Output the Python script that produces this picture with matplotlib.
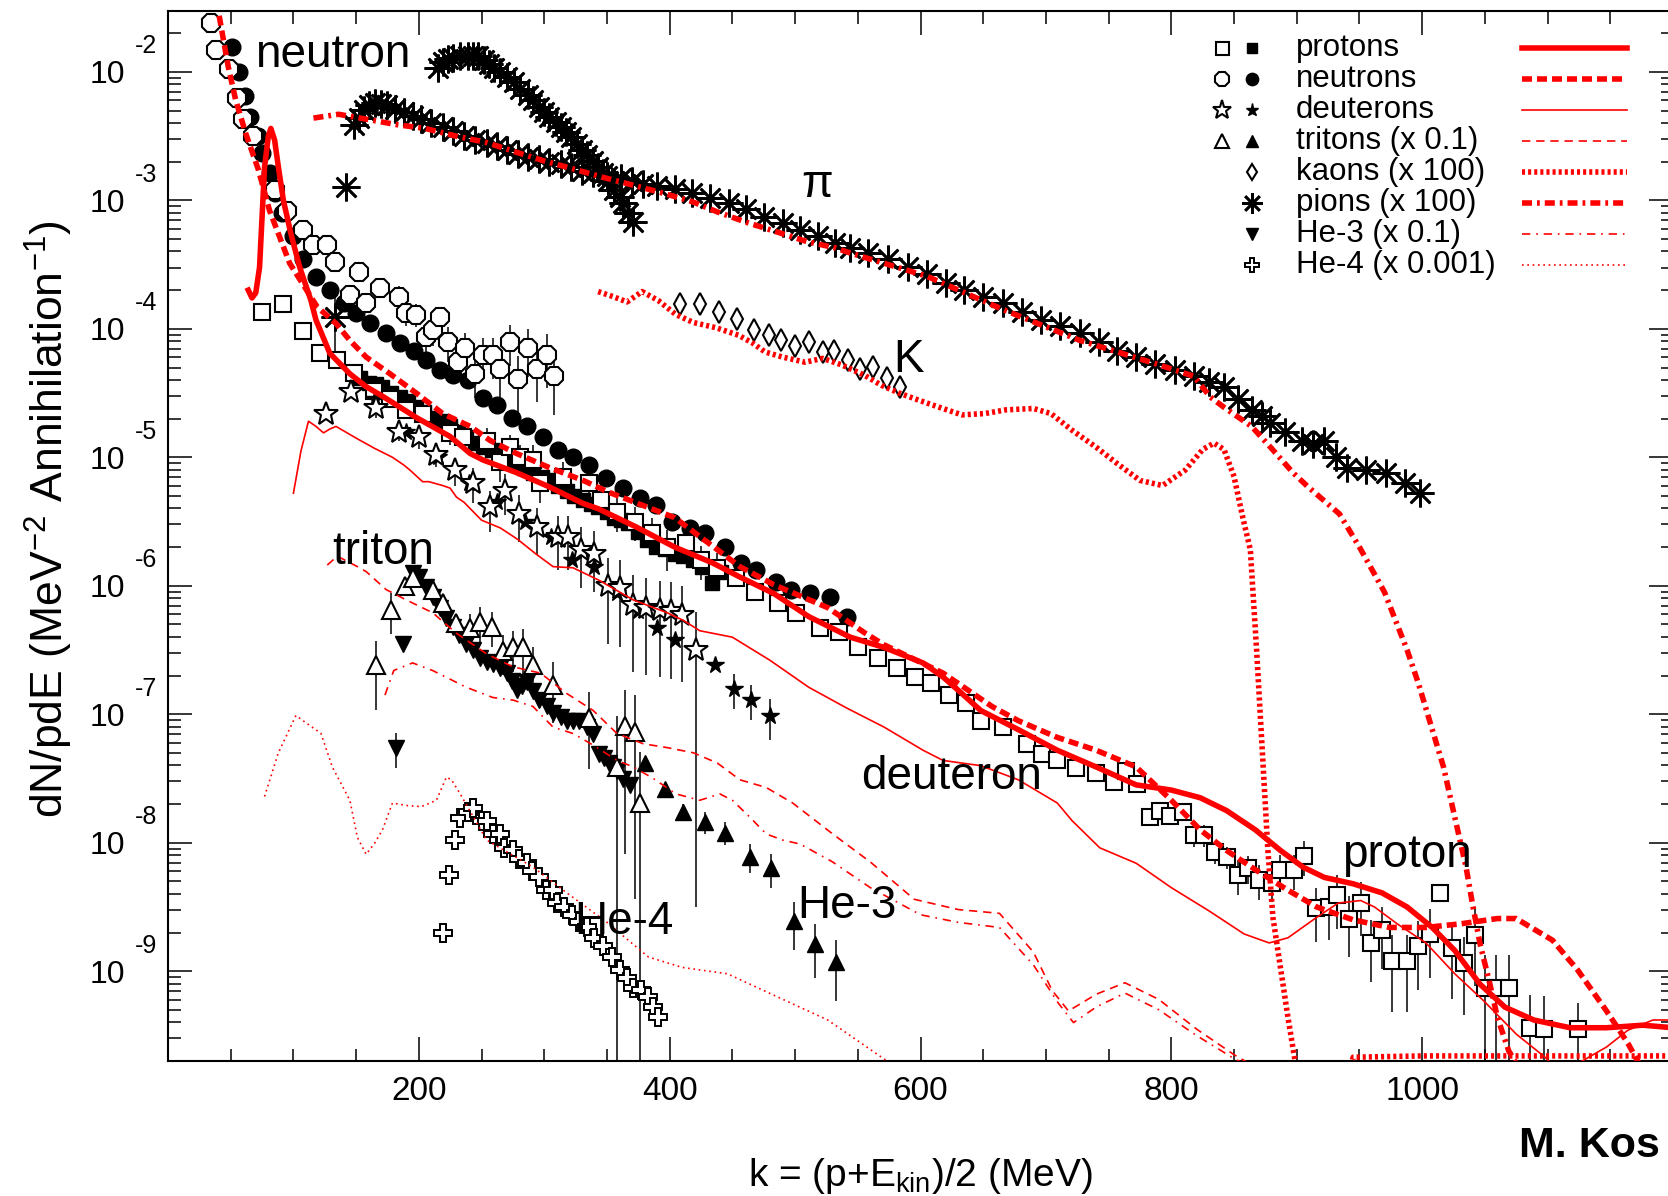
import matplotlib
matplotlib.use('Agg')
import matplotlib.pyplot as plt
import numpy as np
from matplotlib.lines import Line2D
from matplotlib.ticker import FixedLocator, MultipleLocator, LogLocator, FuncFormatter, NullFormatter

plt.rcParams['font.family'] = ['Liberation Sans', 'DejaVu Sans']
plt.rcParams['mathtext.fontset'] = 'custom'
plt.rcParams['mathtext.rm'] = 'Liberation Sans'
plt.rcParams['mathtext.it'] = 'Liberation Sans:italic'
plt.rcParams['mathtext.bf'] = 'Liberation Sans:bold'

# ---------------- data (k in MeV, dN/pdE) ----------------
# protons
p_open_x = [75, 92, 108, 121, 135, 148, 164, 177, 190, 203, 225, 235, 254, 265, 273, 281, 291, 297, 315, 336,
            345, 358, 372, 386, 398, 413, 425, 438, 453, 468, 486, 501, 520, 535, 550, 566, 581, 596, 608, 623,
            636, 648, 666, 685, 697, 709, 724, 740, 754, 764, 773, 783, 791, 799, 809, 818, 826, 835, 844, 853,
            861, 870, 880, 887, 898, 906, 915, 926, 932, 942, 951, 959, 968, 976, 988, 997, 1006, 1014, 1024, 1033,
            1042, 1050, 1059, 1069, 1086, 1097, 1124]
p_open_y = [1.35e-4, 1.55e-4, 9.55e-5, 6.46e-5, 5.75e-5, 4.57e-5, 3.31e-5, 2.82e-5, 2.34e-5, 2.19e-5, 1.55e-5, 1.45e-5,
            1.35e-5, 9.12e-6, 1.20e-5, 1.00e-5, 9.55e-6, 6.31e-6, 7.08e-6, 6.31e-6, 4.68e-6, 3.72e-6, 3.16e-6, 2.57e-6,
            2.00e-6, 2.14e-6, 1.58e-6, 1.38e-6, 1.15e-6, 8.91e-7, 7.41e-7, 6.17e-7, 4.68e-7, 4.37e-7, 3.31e-7, 2.75e-7,
            2.29e-7, 1.95e-7, 1.74e-7, 1.41e-7, 1.23e-7, 8.91e-8, 7.94e-8, 5.89e-8, 4.90e-8, 4.37e-8, 3.80e-8, 3.47e-8,
            2.95e-8, 3.63e-8, 2.88e-8, 1.58e-8, 1.78e-8, 1.62e-8, 1.74e-8, 1.15e-8, 1.15e-8, 8.51e-9, 7.76e-9, 5.62e-9,
            6.31e-9, 5.13e-9, 4.90e-9, 6.17e-9, 6.17e-9, 7.94e-9, 3.09e-9, 3.16e-9, 3.89e-9, 2.57e-9, 3.39e-9, 1.66e-9,
            2.09e-9, 1.20e-9, 1.20e-9, 1.58e-9, 1.95e-9, 4.07e-9, 1.51e-9, 1.15e-9, 1.91e-9, 7.41e-10, 7.41e-10, 7.41e-10,
            3.63e-10, 3.55e-10, 3.55e-10]
p_open_rel = [0.05, 0.05, 0.05, 0.05, 0.05, 0.1, 0.1, 0.1, 0.15, 0.15, 0.2, 0.2, 0.25, 0.3, 0.25, 0.25, 0.3, 0.3, 0.3, 0.3,
              0.3, 0.3, 0.3, 0.3, 0.35, 0.3, 0.3, 0.3, 0.1, 0.05, 0.05, 0.05, 0.05, 0.05, 0.05, 0.05, 0.05, 0.05, 0.05, 0.05,
              0.05, 0.05, 0.05, 0.05, 0.05, 0.05, 0.1, 0.1, 0.1, 0.1, 0.1, 0.15, 0.15, 0.15, 0.15, 0.2, 0.2, 0.2, 0.2, 0.3,
              0.25, 0.3, 0.3, 0.3, 0.3, 0.3, 0.45, 0.45, 0.45, 0.5, 0.45, 0.5, 0.5, 0.6, 0.6, 0.55, 0.55, 0.0, 0.6, 0.6,
              0.6, 0.8, 0.8, 0.8, 0.8, 0.8, 0.6]
p_fill_x = [153, 160, 166, 171, 178, 185, 191, 198, 204, 211, 218, 225, 231, 238, 245, 251, 258, 265, 271, 278, 284, 291,
            298, 304, 311, 318, 324, 331, 337, 343, 350, 356, 361, 367, 375, 382, 389, 396, 404, 411, 419, 426, 434, 441]
p_fill_y = [4.17e-5, 3.80e-5, 3.72e-5, 3.55e-5, 3.16e-5, 2.95e-5, 2.75e-5, 2.45e-5, 2.24e-5, 2.04e-5, 1.91e-5, 1.74e-5,
            1.58e-5, 1.45e-5, 1.29e-5, 1.20e-5, 1.15e-5, 1.07e-5, 9.55e-6, 8.91e-6, 8.32e-6, 7.59e-6, 7.08e-6, 6.61e-6,
            6.03e-6, 5.50e-6, 5.01e-6, 4.68e-6, 4.37e-6, 4.07e-6, 3.72e-6, 3.39e-6, 3.24e-6, 3.09e-6, 2.63e-6, 2.29e-6,
            2.00e-6, 1.95e-6, 1.78e-6, 1.70e-6, 1.58e-6, 1.41e-6, 1.05e-6, 1.29e-6]
p_th_x = [64, 67, 70, 73, 75, 77, 80, 82, 85, 88, 92, 98, 105, 114, 118, 129, 145, 158, 172, 198, 225, 241, 251, 278, 304,
          331, 343, 373, 404, 434, 456, 483, 511, 544, 571, 602, 618, 633, 648, 678, 709, 740, 772, 800, 823, 844, 867,
          887, 905, 922, 945, 968, 988, 1008, 1026, 1046, 1066, 1089, 1118, 1147, 1176, 1200]
p_th_y = [2.00e-4, 1.74e-4, 1.91e-4, 3.02e-4, 7.41e-4, 1.82e-3, 3.16e-3, 3.63e-3, 2.95e-3, 1.82e-3, 1.00e-3, 5.50e-4,
          3.02e-4, 1.66e-4, 1.17e-4, 6.46e-5, 4.47e-5, 3.55e-5, 2.95e-5, 2.04e-5, 1.45e-5, 1.07e-5, 9.55e-6, 7.59e-6,
          5.89e-6, 4.37e-6, 3.98e-6, 2.88e-6, 2.00e-6, 1.51e-6, 1.17e-6, 8.71e-7, 5.75e-7, 3.98e-7, 3.31e-7, 2.51e-7,
          1.95e-7, 1.45e-7, 1.07e-7, 7.59e-8, 5.25e-8, 3.89e-8, 2.82e-8, 2.57e-8, 2.24e-8, 1.78e-8, 1.26e-8, 8.71e-9,
          6.46e-9, 5.37e-9, 4.79e-9, 4.07e-9, 3.16e-9, 2.19e-9, 1.45e-9, 7.94e-10, 5.25e-10, 4.17e-10, 3.63e-10,
          3.63e-10, 3.80e-10, 3.63e-10]

# neutrons
n_open_x = [34, 38, 49, 55, 60, 68, 85, 95, 108, 116, 127, 133, 145, 152, 158, 169, 184, 190, 198, 206, 211, 217, 223,
            231, 237, 245, 251, 259, 265, 273, 279, 287, 294, 302, 308]
n_open_y = [2.40e-2, 1.48e-2, 1.05e-2, 6.31e-3, 4.27e-3, 3.16e-3, 1.20e-3, 8.32e-4, 5.89e-4, 4.47e-4, 4.47e-4, 3.31e-4,
            1.82e-4, 2.75e-4, 1.58e-4, 2.09e-4, 1.78e-4, 1.32e-4, 1.29e-4, 8.71e-5, 9.77e-5, 1.23e-4, 7.94e-5, 5.50e-5,
            7.08e-5, 4.47e-5, 6.31e-5, 6.31e-5, 4.90e-5, 7.94e-5, 4.07e-5, 7.08e-5, 4.90e-5, 6.31e-5, 4.27e-5]
n_open_rel = [0, 0, 0, 0, 0, 0, 0.05, 0.05, 0.08, 0.08, 0.1, 0.1, 0.15, 0.15, 0.15, 0.15, 0.2, 0.2, 0.2, 0.25, 0.25, 0.2,
              0.3, 0.3, 0.3, 0.35, 0.35, 0.35, 0.4, 0.35, 0.5, 0.4, 0.45, 0.45, 0.5]
n_fill_x = [51, 57, 61, 65, 72, 75, 81, 85, 91, 100, 108, 118, 129, 140, 150, 161, 174, 185, 196, 206, 217, 227, 239,
            251, 262, 274, 286, 299, 311, 323, 336, 349, 363, 376, 389, 402, 416, 428, 444, 457, 469, 485, 497, 512, 528,
            541]
n_fill_y = [1.55e-2, 1.00e-2, 6.46e-3, 4.47e-3, 3.16e-3, 2.34e-3, 1.62e-3, 1.15e-3, 7.94e-4, 5.25e-4, 3.47e-4, 2.51e-4,
            2.00e-4, 1.58e-4, 1.32e-4, 1.12e-4, 9.33e-5, 7.76e-5, 6.76e-5, 5.75e-5, 4.79e-5, 4.37e-5, 3.98e-5, 2.88e-5,
            2.57e-5, 2.04e-5, 1.74e-5, 1.45e-5, 1.15e-5, 1.00e-5, 8.71e-6, 6.92e-6, 5.75e-6, 4.79e-6, 4.27e-6, 3.16e-6,
            2.82e-6, 2.57e-6, 2.00e-6, 1.51e-6, 1.32e-6, 1.07e-6, 9.33e-7, 8.71e-7, 8.13e-7, 5.75e-7]
n_th_x = [38, 40, 48, 54, 62, 72, 81, 97, 119, 134, 145, 158, 177, 198, 219, 241, 257, 278, 304, 331, 351, 404, 456, 483,
          526, 556, 571, 618, 657, 678, 709, 740, 772, 800, 823, 844, 867, 893, 916, 945, 974, 1003, 1031, 1060, 1075,
          1104, 1124, 1147, 1164, 1173, 1180]
n_th_y = [3.55e-2, 3.02e-2, 1.10e-2, 6.03e-3, 3.31e-3, 1.74e-3, 8.32e-4, 3.24e-4, 1.48e-4, 1.10e-4, 8.13e-5, 6.03e-5,
          4.47e-5, 3.16e-5, 2.19e-5, 1.74e-5, 1.35e-5, 1.07e-5, 8.32e-6, 6.61e-6, 5.37e-6, 3.39e-6, 1.41e-6, 1.02e-6,
          6.76e-7, 4.27e-7, 3.47e-7, 2.09e-7, 1.15e-7, 8.91e-8, 6.61e-8, 5.25e-8, 3.89e-8, 2.14e-8, 1.26e-8, 8.71e-9,
          6.17e-9, 4.27e-9, 3.16e-9, 2.51e-9, 2.19e-9, 2.19e-9, 2.34e-9, 2.57e-9, 2.57e-9, 1.74e-9, 1.02e-9, 4.90e-10,
          2.75e-10, 1.91e-10, 1.41e-10]

# deuterons
d_open_x = [126, 146, 166, 184, 200, 214, 229, 243, 257, 269, 280, 294, 311, 319, 329, 340, 351, 360, 371, 381, 392, 401,
            410, 421]
d_open_y = [2.19e-5, 3.24e-5, 2.40e-5, 1.58e-5, 1.45e-5, 1.05e-5, 7.94e-6, 6.31e-6, 4.07e-6, 5.50e-6, 3.63e-6, 2.88e-6,
            2.40e-6, 2.40e-6, 1.91e-6, 1.78e-6, 1.00e-6, 9.55e-7, 7.08e-7, 6.76e-7, 6.46e-7, 6.31e-7, 5.89e-7, 3.16e-7]
d_open_rel = [0.1, 0.1, 0.15, 0.15, 0.2, 0.2, 0.25, 0.3, 0.35, 0.35, 0.4, 0.4, 0.45, 0.45, 0.5, 0.5, 0.65, 0.65, 0.7,
              0.7, 0.7, 0.7, 0.7, 0.99]
d_fill_x = [165, 190, 215, 240, 262, 285, 305, 322, 340, 358, 375, 390, 404, 436, 451, 465, 480]
d_fill_y = [2.82e-5, 1.58e-5, 1.00e-5, 6.31e-6, 4.47e-6, 3.16e-6, 2.40e-6, 1.58e-6, 1.41e-6, 8.71e-7, 6.31e-7, 4.68e-7,
            3.80e-7, 2.40e-7, 1.58e-7, 1.29e-7, 9.77e-8]
d_fill_rel = [0, 0, 0, 0, 0, 0, 0, 0, 0, 0, 0, 0, 0, 0, 0.3, 0.3, 0.35]
d_th_x = [100, 106, 112, 118, 124, 129, 134, 150, 165, 179, 188, 193, 203, 208, 219, 225, 230, 236, 250, 265, 279, 293,
          307, 323, 344, 371, 398, 411, 424, 450, 480, 511, 541, 571, 602, 618, 648, 678, 709, 721, 743, 772, 800, 830,
          858, 878, 893, 916, 933, 951, 962, 980, 1003, 1026, 1049, 1075, 1098, 1106, 1115, 1124, 1147, 1164, 1184, 1200]
d_th_y = [5.25e-6, 1.12e-5, 1.91e-5, 1.74e-5, 1.55e-5, 1.66e-5, 1.74e-5, 1.41e-5, 1.17e-5, 1.00e-5, 8.71e-6, 7.94e-6,
          6.46e-6, 6.46e-6, 6.03e-6, 5.75e-6, 4.90e-6, 4.47e-6, 3.24e-6, 2.82e-6, 2.29e-6, 1.78e-6, 1.41e-6, 1.38e-6,
          1.10e-6, 7.76e-7, 6.17e-7, 5.37e-7, 4.47e-7, 3.98e-7, 2.63e-7, 1.62e-7, 1.12e-7, 7.94e-8, 5.25e-8, 4.37e-8,
          3.98e-8, 3.09e-8, 2.04e-8, 1.48e-8, 9.12e-9, 6.92e-9, 4.47e-9, 2.95e-9, 1.95e-9, 1.66e-9, 1.82e-9, 2.63e-9,
          3.39e-9, 3.55e-9, 3.16e-9, 2.34e-9, 1.66e-9, 9.55e-10, 5.89e-10, 3.24e-10, 2.14e-10, 1.78e-10, 1.58e-10,
          1.91e-10, 2.57e-10, 3.47e-10, 4.17e-10, 4.17e-10]

# tritons (x 0.1)
t_open_x = [166, 178, 189, 195, 211, 219, 230, 241, 249, 258, 267, 275, 283, 291, 307, 336, 358, 364, 372, 376]
t_open_y = [2.40e-7, 6.46e-7, 1.00e-6, 1.15e-6, 9.33e-7, 7.41e-7, 5.13e-7, 4.68e-7, 5.25e-7, 4.79e-7, 3.09e-7, 3.31e-7,
            3.31e-7, 2.40e-7, 1.70e-7, 9.33e-8, 3.89e-8, 8.13e-8, 7.24e-8, 2.04e-8]
t_open_rel = [0.55, 0.35, 0.1, 0.1, 0.1, 0.15, 0.15, 0.3, 0.3, 0.3, 0.35, 0.35, 0.4, 0.4, 0.5, 0.6, 1.5, 0.9, 0.95, 1.5]
t_fill_x = [380, 396, 411, 428, 444, 464, 481, 499, 516, 533]
t_fill_y = [4.17e-8, 2.63e-8, 1.74e-8, 1.45e-8, 1.20e-8, 7.76e-9, 6.31e-9, 2.45e-9, 1.62e-9, 1.17e-9]
t_fill_rel = [0.1, 0.1, 0.15, 0.2, 0.2, 0.25, 0.3, 0.4, 0.45, 0.5]
t_th_x = [127, 135, 151, 158, 174, 190, 211, 230, 254, 275, 297, 318, 339, 358, 379, 398, 419, 438, 456, 477, 498, 530,
          560, 595, 630, 663, 690, 705, 718, 740, 763, 790, 820, 850, 873]
t_th_y = [1.45e-6, 1.70e-6, 1.41e-6, 1.29e-6, 9.33e-7, 7.76e-7, 6.17e-7, 4.27e-7, 2.95e-7, 2.34e-7, 2.09e-7, 1.45e-7,
          1.07e-7, 7.08e-8, 5.89e-8, 5.50e-8, 5.01e-8, 4.17e-8, 3.09e-8, 2.69e-8, 2.04e-8, 1.17e-8, 7.08e-9, 3.63e-9,
          3.02e-9, 2.82e-9, 1.41e-9, 7.08e-10, 4.90e-10, 6.61e-10, 8.13e-10, 6.03e-10, 3.55e-10, 2.24e-10, 1.66e-10]

# kaons (x 100)
k_x = [408, 424, 439, 454, 467, 479, 489, 500, 511, 522, 531, 542, 552, 562, 573, 584]
k_y = [1.55e-4, 1.55e-4, 1.35e-4, 1.20e-4, 9.77e-5, 8.91e-5, 8.13e-5, 7.41e-5, 7.94e-5, 6.61e-5, 6.76e-5, 5.75e-5,
       4.90e-5, 5.01e-5, 4.17e-5, 3.55e-5]
k_th_x = [343, 355, 366, 378, 391, 405, 419, 437, 455, 466, 476, 490, 508, 522, 537, 555, 569, 583, 597, 615, 633, 651,
          668, 690, 704, 721, 740, 757, 775, 793, 811, 825, 834, 842, 850, 857, 863, 868, 871, 874, 877, 881, 887, 893,
          899, 920, 945, 1000, 1050, 1100, 1150, 1200]
k_th_y = [1.95e-4, 1.78e-4, 1.62e-4, 1.95e-4, 1.66e-4, 1.29e-4, 1.12e-4, 1.02e-4, 8.91e-5, 7.76e-5, 6.61e-5, 6.03e-5,
          5.50e-5, 5.89e-5, 5.25e-5, 4.37e-5, 3.63e-5, 3.16e-5, 2.82e-5, 2.45e-5, 2.14e-5, 2.19e-5, 2.34e-5, 2.40e-5,
          2.19e-5, 1.62e-5, 1.20e-5, 8.91e-6, 6.61e-6, 6.03e-6, 7.94e-6, 1.15e-5, 1.29e-5, 1.15e-5, 7.08e-6, 3.39e-6,
          1.91e-6, 3.16e-7, 9.55e-8, 2.88e-8, 8.71e-9, 2.63e-9, 1.07e-9, 4.37e-10, 1.91e-10, 3.16e-11, 2.14e-10,
          2.19e-10, 2.19e-10, 2.19e-10, 2.19e-10, 2.19e-10]

# pions (x 100)
pi_x = [148, 152, 156, 160, 165, 170, 175, 181, 188, 195, 202, 210, 219, 227, 236, 245, 254, 262, 270, 279, 287, 296,
        304, 313, 321, 330, 339, 350, 361, 370, 379, 390, 404, 418, 432, 447, 461, 475, 490, 504, 518, 532, 544, 558,
        574, 590, 605, 620, 635, 650, 666, 681, 696, 711, 727, 742, 757, 772, 787, 803, 818, 830, 842, 853, 864, 872,
        879, 891, 904, 913, 922, 931, 940, 955, 971, 986, 998]
pi_y = [3.89e-3, 4.37e-3, 5.01e-3, 5.50e-3, 5.75e-3, 5.62e-3, 5.50e-3, 5.13e-3, 4.90e-3, 4.57e-3, 4.27e-3, 3.98e-3,
        3.72e-3, 3.47e-3, 3.16e-3, 2.95e-3, 2.82e-3, 2.63e-3, 2.45e-3, 2.29e-3, 2.19e-3, 2.09e-3, 2.00e-3, 1.91e-3,
        1.82e-3, 1.70e-3, 1.62e-3, 1.55e-3, 1.48e-3, 1.41e-3, 1.35e-3, 1.29e-3, 1.23e-3, 1.15e-3, 1.05e-3, 9.55e-4,
        8.51e-4, 7.41e-4, 6.61e-4, 5.89e-4, 5.25e-4, 4.68e-4, 4.27e-4, 3.89e-4, 3.47e-4, 3.02e-4, 2.69e-4, 2.29e-4,
        2.00e-4, 1.78e-4, 1.58e-4, 1.35e-4, 1.17e-4, 1.05e-4, 9.33e-5, 7.94e-5, 6.76e-5, 6.03e-5, 5.37e-5, 4.79e-5,
        4.27e-5, 3.89e-5, 3.55e-5, 2.82e-5, 2.34e-5, 2.09e-5, 1.86e-5, 1.58e-5, 1.35e-5, 1.26e-5, 1.35e-5, 1.00e-5,
        8.32e-6, 7.94e-6, 7.59e-6, 6.31e-6, 5.25e-6]
pi2_x = [215, 219, 223, 227, 233, 239, 243, 247, 252, 256, 260, 265, 270, 276, 281, 287, 291, 296, 300, 304, 309, 313,
         317, 321, 326, 330, 334, 339, 343, 347, 351, 356, 360, 363, 367, 371]
pi2_y = [1.07e-2, 1.20e-2, 1.26e-2, 1.29e-2, 1.32e-2, 1.32e-2, 1.32e-2, 1.32e-2, 1.23e-2, 1.15e-2, 1.07e-2, 1.00e-2,
         9.12e-3, 8.32e-3, 7.41e-3, 6.61e-3, 6.03e-3, 5.37e-3, 4.90e-3, 4.47e-3, 4.07e-3, 3.72e-3, 3.39e-3, 3.09e-3,
         2.75e-3, 2.45e-3, 2.24e-3, 2.04e-3, 1.82e-3, 1.62e-3, 1.41e-3, 1.20e-3, 1.07e-3, 9.55e-4, 7.94e-4, 6.76e-4]
pi3_x = [133, 142]
pi3_y = [1.23e-4, 1.26e-3]
pi3_rel = [0.6, 0.0]
pi_th_x = [116, 136, 159, 182, 205, 230, 254, 276, 299, 321, 347, 370, 393, 418, 438, 461, 487, 509, 532, 544, 605, 666,
           727, 787, 818, 831, 842, 864, 879, 897, 909, 934, 950, 970, 988, 997, 1009, 1017, 1026, 1035, 1040, 1046,
           1054, 1060, 1069, 1075, 1080]
pi_th_y = [4.37e-3, 4.68e-3, 4.27e-3, 3.89e-3, 3.63e-3, 3.16e-3, 2.82e-3, 2.40e-3, 2.04e-3, 1.78e-3, 1.51e-3, 1.32e-3,
           1.15e-3, 9.77e-4, 8.13e-4, 6.76e-4, 5.62e-4, 4.79e-4, 4.27e-4, 3.89e-4, 2.57e-4, 1.41e-4, 8.13e-5, 5.37e-5,
           4.27e-5, 2.95e-5, 2.45e-5, 1.74e-5, 1.20e-5, 7.59e-6, 5.89e-6, 3.63e-6, 2.00e-6, 8.91e-7, 3.16e-7, 1.74e-7,
           7.08e-8, 3.89e-8, 1.58e-8, 6.46e-9, 3.39e-9, 1.66e-9, 7.94e-10, 4.37e-10, 2.40e-10, 1.91e-10, 1.41e-10]

# He-3 (x 0.1)
he3_x = [182, 187, 195, 200, 206, 211, 217, 222, 227, 232, 238, 243, 249, 254, 259, 265, 270, 274, 278, 282, 286, 291,
         296, 302, 307, 313, 318, 323, 328, 334, 339, 344, 348, 352, 355, 358, 363, 368]
he3_y = [5.50e-8, 3.55e-7, 1.26e-6, 1.17e-6, 9.77e-7, 8.13e-7, 6.76e-7, 5.62e-7, 4.79e-7, 4.17e-7, 3.55e-7, 3.16e-7,
         2.75e-7, 2.57e-7, 2.45e-7, 2.29e-7, 2.09e-7, 1.82e-7, 1.55e-7, 1.66e-7, 1.78e-7, 1.51e-7, 1.29e-7, 1.15e-7,
         1.02e-7, 9.55e-8, 8.91e-8, 8.91e-8, 8.91e-8, 7.94e-8, 7.08e-8, 4.90e-8, 4.57e-8, 4.17e-8, 3.89e-8, 3.63e-8,
         3.16e-8, 2.82e-8]
he3_rel = [0.3] + [0.0] * 37
he3_th_x = [173, 180, 195, 211, 238, 259, 275, 291, 307, 323, 339, 358, 371, 387, 405, 424, 440, 450, 464, 477, 490, 504,
            530, 560, 600, 630, 663, 690, 710, 722, 740, 763, 790, 820, 850, 870]
he3_th_y = [1.41e-7, 2.19e-7, 2.51e-7, 2.19e-7, 1.62e-7, 1.35e-7, 1.29e-7, 1.15e-7, 7.94e-8, 7.08e-8, 5.75e-8, 4.37e-8,
            3.89e-8, 3.16e-8, 2.40e-8, 2.14e-8, 2.40e-8, 2.14e-8, 1.58e-8, 1.17e-8, 1.05e-8, 9.77e-9, 7.08e-9, 4.47e-9,
            2.75e-9, 2.40e-9, 2.19e-9, 1.12e-9, 5.62e-10, 3.98e-10, 5.25e-10, 6.76e-10, 5.01e-10, 3.16e-10, 2.09e-10,
            1.66e-10]

# He-4 (x 0.001)
he4_x = [219, 224, 229, 233, 239, 243, 250, 254, 259, 265, 268, 275, 280, 286, 290, 296, 301, 307, 310, 316, 322, 328,
         334, 340, 347, 354, 360, 366, 371, 377, 383, 387, 391]
he4_y = [2.00e-9, 5.62e-9, 1.05e-8, 1.55e-8, 1.74e-8, 1.86e-8, 1.48e-8, 1.48e-8, 1.17e-8, 1.17e-8, 9.12e-9, 8.71e-9,
         7.41e-9, 6.92e-9, 6.03e-9, 5.37e-9, 4.27e-9, 4.27e-9, 3.39e-9, 3.16e-9, 2.75e-9, 2.40e-9, 2.19e-9, 1.82e-9,
         1.58e-9, 1.29e-9, 1.02e-9, 8.91e-10, 7.41e-10, 7.08e-10, 6.31e-10, 5.25e-10, 4.37e-10]
he4_th_x = [77, 88, 102, 122, 131, 145, 151, 158, 165, 171, 179, 190, 202, 214, 222, 226, 233, 254, 291, 318, 350, 383,
            410, 446, 486, 526, 572, 585]
he4_th_y = [2.29e-8, 5.01e-8, 9.77e-8, 7.08e-8, 3.89e-8, 2.14e-8, 1.10e-8, 8.13e-9, 1.00e-8, 1.26e-8, 2.04e-8, 1.95e-8,
            1.91e-8, 2.14e-8, 3.24e-8, 3.09e-8, 2.40e-8, 1.05e-8, 6.46e-9, 4.07e-9, 2.40e-9, 1.29e-9, 1.07e-9, 9.55e-10,
            6.31e-10, 4.17e-10, 2.04e-10, 1.58e-10]

legend_labels = ['protons', 'neutrons', 'deuterons', 'tritons (x 0.1)', 'kaons (x 100)', 'pions (x 100)',
                 'He-3 (x 0.1)', 'He-4 (x 0.001)']
y_decades = [1e-9, 1e-8, 1e-7, 1e-6, 1e-5, 1e-4, 1e-3, 1e-2]

# ---------------- figure ----------------
W, H = 1668, 1196
fig = plt.figure(figsize=(W / 100, H / 100), dpi=100)
ax = fig.add_axes([168 / W, 1 - 1061 / H, (1673 - 168) / W, (1061 - 10.6) / H])
ax.set_yscale('log')

RED = '#ff0000'
THICK, THIN = 4.0, 1.2

ASTER = (8, 2, 0)
styles = {
    'p_open': dict(marker='s', ms=12, mfc='white', mec='black', mew=1.5),
    'p_fill': dict(marker='s', ms=10, mfc='black', mec='black'),
    'n_open': dict(marker='8', ms=14, mfc='white', mec='black', mew=1.5),
    'n_fill': dict(marker='o', ms=12, mfc='black', mec='black'),
    'd_open': dict(marker='*', ms=18, mfc='white', mec='black', mew=1.5),
    'd_fill': dict(marker='*', ms=13, mfc='black', mec='black'),
    't_open': dict(marker='^', ms=13, mfc='white', mec='black', mew=1.5),
    't_fill': dict(marker='^', ms=12, mfc='black', mec='black'),
    'k': dict(marker='d', ms=11, mfc='white', mec='black', mew=1.5),
    'pi': dict(marker=ASTER, ms=20, mec='black', mew=1.9),
    'he3': dict(marker='v', ms=12, mfc='black', mec='black'),
    'he4': dict(marker='P', ms=13, mfc='white', mec='black', mew=1.4),
}
lines = {
    'p': dict(lw=THICK, ls='-'),
    'n': dict(lw=THICK, ls=(0, (1.8, 0.9))),
    'd': dict(lw=THIN, ls='-'),
    't': dict(lw=THIN, ls=(0, (5, 3.5))),
    'k': dict(lw=THICK, ls=(0, (0.55, 0.55))),
    'pi': dict(lw=THICK, ls=(0, (1.8, 0.9, 0.5, 0.9))),
    'he3': dict(lw=THIN, ls=(0, (5, 3.5, 1, 3.5))),
    'he4': dict(lw=THIN, ls=(0, (1, 2.2))),
}


def points(x, y, style, rel=None):
    x = np.asarray(x, float)
    y = np.asarray(y, float)
    if rel is not None:
        e = y * np.asarray(rel, float)
        ax.errorbar(x, y, yerr=e, fmt='none', ecolor='black', elinewidth=1.1, capsize=0, zorder=2)
    ax.plot(x, y, ls='none', zorder=3, **styles[style])


# filled first, open on top
points(n_fill_x, n_fill_y, 'n_fill')
points(n_open_x, n_open_y, 'n_open', n_open_rel)
points(p_fill_x, p_fill_y, 'p_fill')
points(p_open_x, p_open_y, 'p_open', p_open_rel)
points(d_fill_x, d_fill_y, 'd_fill', d_fill_rel)
points(d_open_x, d_open_y, 'd_open', d_open_rel)
points(he3_x, he3_y, 'he3', he3_rel)
points(t_fill_x, t_fill_y, 't_fill', t_fill_rel)
points(t_open_x, t_open_y, 't_open', t_open_rel)
points(he4_x, he4_y, 'he4')
points(k_x, k_y, 'k')
points(pi_x, pi_y, 'pi')
points(pi2_x, pi2_y, 'pi')
points(pi3_x, pi3_y, 'pi', pi3_rel)

# model curves
for xs, ys, key in [(p_th_x, p_th_y, 'p'), (n_th_x, n_th_y, 'n'), (d_th_x, d_th_y, 'd'),
                    (t_th_x, t_th_y, 't'), (k_th_x, k_th_y, 'k'), (pi_th_x, pi_th_y, 'pi'),
                    (he3_th_x, he3_th_y, 'he3'), (he4_th_x, he4_th_y, 'he4')]:
    ax.plot(xs, ys, color=RED, zorder=4, **lines[key])

ax.set_xlim(0, 1200)
ax.set_ylim(2.0e-10, 3.0e-2)

# axes / ticks
ax.xaxis.set_major_locator(FixedLocator([0, 200, 400, 600, 800, 1000, 1200]))
ax.xaxis.set_major_formatter(FuncFormatter(lambda v, p: '' if v in (0, 1200) else '%d' % v))
ax.xaxis.set_minor_locator(MultipleLocator(50))
ax.yaxis.set_major_locator(FixedLocator(y_decades))
ax.yaxis.set_minor_locator(LogLocator(base=10, subs=np.arange(2, 10), numticks=20))
ax.yaxis.set_minor_formatter(NullFormatter())
# ROOT style: "10" on the tick, exponent raised above on the right
ax.yaxis.set_major_formatter(FuncFormatter(lambda v, p: '10'))
ax.tick_params(which='both', direction='in', top=True, right=True, width=1.1, colors='black')
ax.tick_params(which='major', length=17)
ax.tick_params(which='minor', length=9)
ax.tick_params(axis='x', which='major', pad=11, labelsize=24)
ax.tick_params(axis='y', which='major', pad=31, labelsize=23)
for s in ax.spines.values():
    s.set_linewidth(1.5)
for v in y_decades:
    ax.text(-0.0222, v * 1.58, '-%d' % round(-np.log10(v)), transform=ax.get_yaxis_transform(),
            fontsize=18, ha='left', va='center', clip_on=False)

ax.set_xlabel(r'k = (p+E$_{\mathregular{kin}}$)/2 (MeV)', fontsize=28)
ax.xaxis.set_label_coords(0.5, -0.09)
ax.set_ylabel(r'dN/pdE (MeV$^{\mathregular{-2}}$ Annihilation$^{\mathregular{-1}}$)', fontsize=32)
ax.yaxis.set_label_coords(-0.062, 0.516)

# curve labels
lab = dict(fontsize=33, va='baseline', ha='left', zorder=6)
ax.text(69, 1.10e-2, 'neutron', **lab)
ax.text(505, 1.07e-3, 'π', **lab)
ax.text(578, 4.6e-5, 'K', **lab)
ax.text(131, 1.48e-6, 'triton', **lab)
ax.text(553, 2.6e-8, 'deuteron', **lab)
ax.text(936, 6.5e-9, 'proton', **lab)
ax.text(324, 1.95e-9, 'He-4', **lab)
ax.text(502, 2.6e-9, 'He-3', **lab)

fig.text(1519 / W, 1 - 1157 / H, 'M. Kos', fontsize=31, fontweight='bold', va='baseline')

# legend, drawn by hand: open marker, filled marker, label, model line
rows = [48, 79, 110, 141, 172, 203, 234, 265]
open_keys = ['p_open', 'n_open', 'd_open', 't_open', None, None, None, None]
fill_keys = ['p_fill', 'n_fill', 'd_fill', 't_fill', 'k', 'pi', 'he3', 'he4']
line_keys = ['p', 'n', 'd', 't', 'k', 'pi', 'he3', 'he4']
for r, lab_txt, ok, fk, lk in zip(rows, legend_labels, open_keys, fill_keys, line_keys):
    fy = 1 - r / H
    if ok:
        st = dict(styles[ok]); st['ms'] = st['ms'] * 0.78
        fig.add_artist(Line2D([1222 / W], [fy], ls='none', **st))
    st = dict(styles[fk]); st['ms'] = st['ms'] * 0.74
    fig.add_artist(Line2D([1252 / W], [fy], ls='none', **st))
    fig.text(1296 / W, fy, lab_txt, fontsize=22.5, va='center', ha='left')
    fig.add_artist(Line2D([1522 / W, 1627 / W], [fy, fy], color=RED, **lines[lk]))

fig.savefig('out.png', dpi=100)
